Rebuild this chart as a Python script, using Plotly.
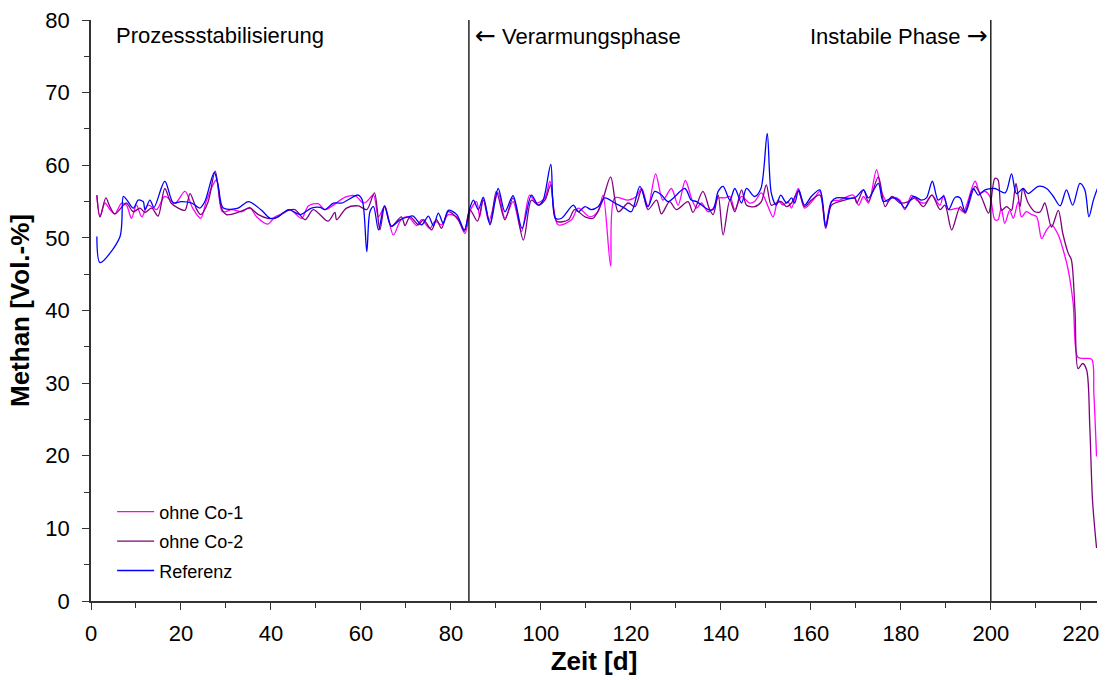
import plotly.graph_objects as go

# Methane content over the trial period, three digesters
days_co1 = [1.3, 2, 3.1, 4.2, 5.3, 6.8, 7.9, 9, 10.1, 11.3, 12.7, 14.6, 16.4, 18.7, 20.9, 22.6, 24.4, 25.7, 27.9, 29.2,
            31.3, 33.5, 35.3, 36.8, 39.3, 40.9, 42.8, 44.2, 46.8, 48.3, 50.5, 52, 56.5, 58.7, 60.5, 61.3, 62.8, 63.9,
            65.3, 67.2, 68.9, 70.5, 72.4, 73.5, 75.3, 76.5, 77.9, 79.4, 81.3, 83.1, 84.4, 85.7, 86.4, 87.2, 88.4,
            90.5, 92, 93.8, 95.7, 97.5, 99, 100.9, 102, 103.8, 106.8, 108.3, 110.9, 112.7, 113.8, 115.5, 116.4, 119.4,
            121.2, 122.4, 123.8, 125.5, 127.1, 129, 130.5, 132.1, 133.6, 134.6, 135.7, 137.1, 138.3, 139.4, 140.9,
            142, 143.1, 144.6, 146.4, 147.5, 149, 151.6, 152.7, 153.8, 154.9, 155.7, 157.2, 158.6, 160.5, 162, 163.3,
            164.6, 166.4, 169.4, 170.6, 171.7, 172.8, 174.6, 175.7, 176.9, 178.3, 179.8, 180.9, 182.4, 183.5, 185.4,
            186.9, 188.7, 189.5, 190.6, 192.8, 193.9, 196.5, 197.6, 198.7, 199.8, 200.9, 201.6, 202.3, 203.1, 204.2,
            205, 206.1, 206.8, 207.9, 209.1, 210.2, 211.3, 212.4, 213.5, 215, 216.1, 217.2, 218.3, 219.3, 220.5,
            222.4, 222.9, 223.5]
ch4_co1 = [55.8, 52.9, 54.8, 53.9, 53.3, 54.8, 54.5, 52.7, 54.5, 52.9, 54.5, 53.9, 55.7, 54.8, 56.4, 54.1, 52.7, 55.2,
           58.0, 53.6, 53.9, 53.6, 54.2, 52.9, 51.9, 52.9, 53.4, 53.9, 52.7, 54.4, 54.7, 53.9, 55.6, 55.8, 54.8, 55.0,
           55.9, 52.9, 54.3, 50.4, 52.5, 52.9, 51.7, 52.5, 51.3, 52.3, 51.8, 53.2, 52.9, 50.6, 53.9, 55.0, 52.9, 55.5,
           52.3, 56.2, 52.7, 55.0, 50.9, 55.9, 54.8, 55.5, 57.8, 51.8, 52.5, 54.1, 52.9, 53.6, 55.9, 46.1, 55.5, 55.2,
           55.7, 56.8, 54.3, 58.8, 55.2, 56.8, 54.5, 57.9, 55.2, 54.1, 54.8, 53.6, 54.1, 55.5, 55.5, 55.7, 53.9, 55.7,
           54.8, 55.0, 56.2, 52.9, 55.2, 54.5, 55.0, 54.1, 56.8, 54.1, 55.2, 56.4, 51.8, 55.0, 55.2, 55.9, 54.5, 55.7,
           54.8, 59.4, 56.4, 55.0, 55.6, 55.2, 53.9, 55.9, 55.2, 54.8, 55.9, 54.5, 55.9, 53.9, 54.1, 53.6, 57.8, 56.2,
           56.4, 55.7, 52.5, 52.5, 54.1, 52.0, 53.8, 52.7, 55.0, 52.9, 53.6, 53.2, 52.9, 49.9, 51.1, 51.8, 50.4, 48.3,
           45.6, 41.0, 33.6, 33.4, 33.3, 28.6, 19.9]

days_co2 = [1.3, 2, 3.3, 4.2, 5.3, 7.2, 7.9, 9.4, 10.9, 12, 13.5, 14.9, 16.4, 17.8, 19.4, 20.9, 22, 23.5, 24.4, 26,
            27.6, 29, 30.1, 33.1, 35.3, 37.2, 39.3, 40.9, 43.1, 45.3, 47.6, 49.4, 52.7, 54.2, 54.6, 56.8, 59.4, 61.3,
            63, 64.2, 65.3, 66.7, 69, 69.8, 70.9, 72.8, 73.9, 75.7, 76.8, 77.9, 79.4, 81.6, 83, 84.2, 85.9, 87.2,
            88.7, 90.1, 92, 93.8, 96.1, 97.9, 99.4, 100.9, 102.2, 103.5, 106.1, 107.5, 109.8, 111.6, 113.5, 115.5,
            117.2, 119.4, 120.9, 122.4, 123.8, 125.7, 126.8, 128.6, 130.1, 132.7, 133.8, 136, 137.5, 138.3, 139.4,
            140.5, 142, 143.1, 144.6, 145.7, 147.5, 149, 150.1, 151.2, 152.3, 153.4, 154.6, 155.7, 157.2, 158.6,
            160.1, 162, 163.3, 164.6, 167.5, 169.7, 170.2, 171.7, 172.8, 175, 176.5, 178, 179.8, 181.7, 183.2, 185,
            186.9, 188.7, 189.8, 191.3, 193.2, 194.3, 196.5, 198, 199.5, 200.9, 201.6, 202.4, 203.5, 204.6, 205,
            205.6, 206.5, 207.1, 208.3, 209.8, 211, 212, 213.5, 215, 216, 217.2, 217.9, 218.7, 219.4, 220.4, 221.3,
            222, 222.6, 223.5]
ch4_co2 = [55.9, 52.9, 55.5, 54.3, 53.3, 54.5, 54.8, 53.6, 54.1, 53.5, 54.1, 53.0, 56.8, 54.8, 54.1, 53.8, 56.1, 53.9,
           53.2, 54.9, 59.2, 54.1, 53.2, 53.6, 54.1, 53.2, 52.7, 52.7, 53.6, 53.9, 52.5, 53.9, 52.3, 53.5, 52.5, 54.1,
           54.4, 53.9, 56.2, 51.1, 54.4, 51.6, 52.9, 51.7, 52.9, 51.8, 52.5, 51.1, 52.5, 51.3, 53.6, 52.5, 50.9, 53.9,
           52.3, 55.2, 52.0, 56.4, 52.5, 55.5, 49.7, 55.2, 54.5, 55.2, 57.3, 52.3, 52.5, 53.9, 52.9, 52.7, 54.8, 58.4,
           53.6, 54.8, 54.3, 56.6, 53.9, 55.2, 53.3, 55.0, 53.9, 55.0, 53.5, 56.4, 53.9, 53.2, 55.9, 50.4, 55.2, 53.6,
           56.6, 54.5, 54.3, 55.0, 57.3, 54.5, 54.8, 55.0, 54.3, 54.8, 56.4, 54.3, 55.2, 55.9, 51.3, 54.5, 55.2, 55.5,
           54.8, 56.6, 55.0, 58.4, 54.3, 55.7, 54.8, 55.0, 55.5, 54.3, 55.9, 53.9, 54.5, 51.1, 54.3, 53.4, 57.1, 55.5,
           53.4, 58.2, 58.0, 53.8, 54.3, 53.8, 55.0, 57.5, 54.3, 56.8, 54.8, 53.6, 53.6, 54.8, 51.5, 53.8, 50.6, 47.9,
           47.0, 40.1, 32.0, 32.7, 31.8, 24.0, 13.9, 7.3]

days_ref = [1.3, 2, 6.4, 7.2, 8, 9.4, 10.5, 11.6, 12, 13.1, 14, 16.4, 18.3, 20, 22.4, 24.2, 25.3, 27.4, 28.3, 29.4,
            32.7, 35, 37.9, 39.8, 41.6, 43.9, 46.5, 49, 50.9, 52, 53.9, 55.7, 59.4, 60.3, 61.3, 62, 62.8, 63.9, 65.2,
            66.8, 68.7, 70.5, 71.6, 73.5, 75, 76.1, 77.2, 78.3, 79.4, 81.3, 83, 84.2, 85, 86.1, 87.2, 88.7, 90.5, 92,
            93.8, 95.8, 97.9, 99.4, 100.5, 102.2, 103.2, 104.6, 107.2, 108.3, 109.8, 111.2, 112.7, 114.2, 116.4,
            118.6, 120.1, 122, 123.8, 125.3, 126.8, 128.3, 132, 133.4, 134.6, 137.2, 138.3, 139.4, 140.5, 142, 143.1,
            144.6, 145.7, 147.5, 148.9, 150.3, 151.2, 152.3, 153.3, 154.6, 155.7, 156.4, 157.3, 158.6, 160.1, 162,
            163.3, 164.6, 165.7, 169.7, 171.7, 172.8, 175, 176.1, 178, 179.5, 180.9, 182.8, 184.6, 185.7, 187, 188.3,
            189.5, 190.6, 192.1, 193.2, 194.3, 196.1, 197.2, 198.7, 200.9, 203.2, 204.6, 205.7, 207.2, 208.3, 210.6,
            212.4, 213.9, 215.4, 216.8, 218.2, 219.8, 220.9, 221.8, 222.8, 223.7]
ch4_ref = [50.2, 46.6, 50.1, 55.7, 55.2, 54.1, 55.2, 55.0, 53.9, 55.2, 54.2, 57.8, 54.8, 55.0, 54.8, 54.1, 55.0, 59.0,
           57.1, 54.1, 54.1, 55.0, 53.8, 52.7, 52.9, 53.9, 53.2, 54.1, 54.2, 53.9, 54.8, 54.8, 55.9, 55.2, 48.1, 53.6,
           54.3, 51.1, 54.4, 51.6, 52.5, 52.9, 53.0, 51.8, 53.0, 51.7, 53.4, 52.0, 53.8, 53.2, 51.1, 54.1, 55.2, 53.9,
           55.6, 51.8, 56.8, 53.6, 55.8, 51.3, 55.9, 54.5, 55.2, 60.1, 52.7, 52.7, 54.5, 53.6, 54.3, 53.9, 54.3, 55.5,
           54.8, 54.1, 53.6, 57.1, 54.3, 56.4, 55.9, 55.0, 56.8, 55.2, 55.0, 53.9, 53.9, 56.4, 57.1, 55.2, 56.8, 54.8,
           56.8, 55.7, 56.8, 64.4, 56.2, 54.5, 55.9, 54.8, 55.5, 54.8, 56.6, 54.5, 55.7, 56.6, 51.6, 55.0, 55.5, 55.5,
           56.6, 55.5, 57.5, 55.0, 55.5, 55.2, 54.1, 55.7, 55.2, 55.5, 57.8, 55.2, 55.7, 53.9, 55.6, 55.5, 53.6, 56.8,
           55.9, 56.6, 56.8, 56.2, 58.8, 56.1, 56.8, 56.1, 57.1, 56.8, 55.7, 54.4, 56.6, 54.5, 57.5, 56.6, 52.9, 55.2,
           56.8]

# Phase boundaries (days) and phase names
phase_days = [84, 200]
ARROW = '<span style="font-family:DejaVu Sans;font-size:25px">{}</span>'
phase_labels = [
    "Prozessstabilisierung",
    ARROW.format("\u2190") + " Verarmungsphase",
    "Instabile Phase " + ARROW.format("\u2192"),
]

FONT = "Liberation Sans, Arial, sans-serif"
AXIS_COLOR = "#333333"

series = [
    ("ohne Co-1", days_co1, ch4_co1, "#FF00FF"),
    ("ohne Co-2", days_co2, ch4_co2, "#800080"),
    ("Referenz", days_ref, ch4_ref, "#0000FF"),
]

fig = go.Figure()
for name, x, y, color in series:
    fig.add_trace(go.Scatter(
        x=x, y=y, name=name, mode="lines", legendgroup=name,
        line=dict(color=color, width=1.3, shape="spline", smoothing=0.85),
    ))

for d in phase_days:
    fig.add_shape(type="line", x0=d, x1=d, y0=0, y1=80, xref="x", yref="y",
                  line=dict(color="black", width=1.3))

label_font = dict(family=FONT, size=22, color="black")
fig.add_annotation(x=5.1, y=77.9, xref="x", yref="y", text=phase_labels[0], showarrow=False,
                   xanchor="left", yanchor="middle", font=label_font)
fig.add_annotation(x=84.8, y=77.9, xref="x", yref="y", text=phase_labels[1], showarrow=False,
                   xanchor="left", yanchor="middle", font=label_font)
fig.add_annotation(x=199.9, y=77.9, xref="x", yref="y", text=phase_labels[2], showarrow=False,
                   xanchor="right", yanchor="middle", font=label_font)

fig.update_layout(
    width=1107, height=680,
    margin=dict(l=91, r=10, t=20, b=79, autoexpand=False),
    paper_bgcolor="white", plot_bgcolor="white",
    font=dict(family=FONT, size=22, color="black"),
    showlegend=True,
    legend=dict(x=0.021, y=0.185, xanchor="left", yanchor="top",
                bgcolor="rgba(0,0,0,0)", font=dict(family=FONT, size=18, color="black"),
                tracegroupgap=3, itemwidth=37),
)
fig.update_xaxes(
    range=[0, 223.6], tickmode="linear", tick0=0, dtick=20, automargin=False,
    showline=True, linecolor=AXIS_COLOR, linewidth=1.5, showgrid=False, zeroline=False,
    ticks="outside", ticklen=7, tickwidth=1.3, tickcolor=AXIS_COLOR,
    minor=dict(dtick=10, ticks="outside", ticklen=5, tickwidth=1.3, tickcolor=AXIS_COLOR, showgrid=False),
    ticklabelstandoff=5,
    title=dict(text="<b>Zeit [d]</b>", font=dict(family=FONT, size=26), standoff=6),
)
fig.update_yaxes(
    range=[0, 80], tickmode="linear", tick0=0, dtick=10, automargin=False,
    showline=True, linecolor=AXIS_COLOR, linewidth=1.5, showgrid=False, zeroline=False,
    ticks="outside", ticklen=7, tickwidth=1.3, tickcolor=AXIS_COLOR,
    minor=dict(dtick=5, ticks="outside", ticklen=5, tickwidth=1.3, tickcolor=AXIS_COLOR, showgrid=False),
    ticklabelstandoff=8,
    title=dict(text="<b>Methan [Vol.-%]</b>", font=dict(family=FONT, size=26), standoff=8),
)

fig.write_html("out.html")
